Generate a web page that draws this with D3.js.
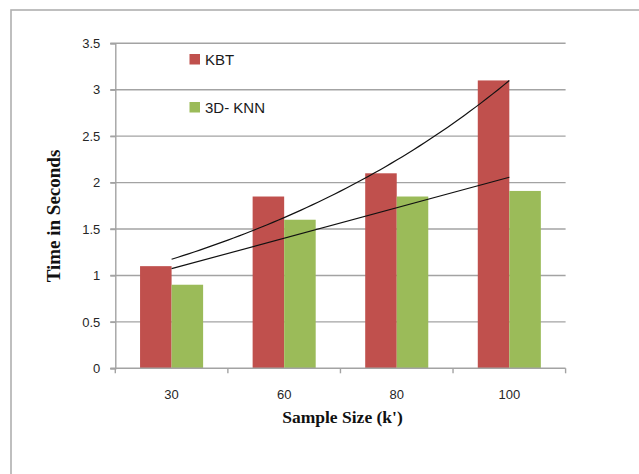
<!DOCTYPE html>
<html>
<head>
<meta charset="utf-8">
<script src="https://cdn.jsdelivr.net/npm/d3@7"></script>
<style>
  html, body { margin: 0; padding: 0; background: #fff; }
  svg { display: block; }
</style>
</head>
<body>
<svg id="chart" width="639" height="474"></svg>
<script>
// Run time of the two methods per sample size
const categories = ["30", "60", "80", "100"];
const kbtTimes = [1.1, 1.85, 2.1, 3.1];
const knnTimes = [0.9, 1.6, 1.85, 1.91];
const seriesNames = ["KBT", "3D- KNN"];
const seriesColors = ["#C0504D", "#9BBB59"];
const yTicks = [0, 0.5, 1, 1.5, 2, 2.5, 3, 3.5];

const svg = d3.select("#chart");
const W = 639, H = 474;
const plot = { left: 115.3, right: 565.6, top: 43.3, bottom: 368.3 };
const gridColor = "#a3a3a3";
const labelFont = "'Liberation Sans', Arial, sans-serif";
const titleFont = "'Liberation Serif', 'Times New Roman', serif";

// outer frame
svg.append("rect")
  .attr("x", 11).attr("y", 10)
  .attr("width", W + 20).attr("height", H + 20)
  .attr("fill", "none").attr("stroke", "#b0b0b0").attr("stroke-width", 1.6);

const y = d3.scaleLinear().domain([0, 3.5]).range([plot.bottom, plot.top]);
const x = d3.scaleBand().domain(categories).range([plot.left, plot.right]).paddingInner(0).paddingOuter(0);
const groupW = x.bandwidth() * 2 / 3.57;
const x1 = d3.scaleBand().domain(seriesNames)
  .range([(x.bandwidth() - groupW) / 2, (x.bandwidth() + groupW) / 2]);

// horizontal gridlines with left tick marks
svg.append("g").selectAll("line").data(yTicks.slice(1)).join("line")
  .attr("x1", plot.left - 5).attr("x2", plot.right)
  .attr("y1", d => y(d)).attr("y2", d => y(d))
  .attr("stroke", gridColor).attr("stroke-width", 1.4);

// y axis
const yAxis = d3.axisLeft(y).tickValues(yTicks).tickSize(5).tickPadding(10)
  .tickFormat(d => String(d));
const gy = svg.append("g").attr("transform", `translate(${plot.left},0)`).call(yAxis);
gy.select(".domain").attr("stroke", gridColor).attr("stroke-width", 1.4);
gy.selectAll(".tick line").attr("stroke", gridColor).attr("stroke-width", 1.4);
gy.selectAll(".tick text").attr("fill", "#262626")
  .style("font-family", labelFont).style("font-size", "13px");

// bars
const data = categories.map((c, i) => ({ cat: c, vals: [kbtTimes[i], knnTimes[i]] }));
const groups = svg.append("g").selectAll("g").data(data).join("g")
  .attr("transform", d => `translate(${x(d.cat)},0)`);
groups.selectAll("rect")
  .data(d => d.vals.map((v, j) => ({ name: seriesNames[j], v, color: seriesColors[j] })))
  .join("rect")
  .attr("x", d => x1(d.name))
  .attr("width", x1.bandwidth())
  .attr("y", d => y(d.v))
  .attr("height", d => y(0) - y(d.v))
  .attr("fill", d => d.color);

// x axis with boundary ticks
const gx = svg.append("g").attr("transform", `translate(0,${plot.bottom})`);
gx.append("line").attr("x1", plot.left - 5).attr("x2", plot.right)
  .attr("stroke", gridColor).attr("stroke-width", 1.4);
const bounds = categories.map(c => x(c)).concat([plot.right]);
gx.selectAll("line.b").data(bounds).join("line").attr("class", "b")
  .attr("x1", d => d).attr("x2", d => d).attr("y1", 0).attr("y2", 5)
  .attr("stroke", gridColor).attr("stroke-width", 1.4);
gx.selectAll("text").data(categories).join("text")
  .attr("x", d => x(d) + x.bandwidth() / 2).attr("y", 31)
  .attr("text-anchor", "middle").attr("fill", "#262626")
  .style("font-family", labelFont).style("font-size", "13px")
  .text(d => d);

// trendlines: exponential fit for KBT, linear fit for 3D-KNN
const idx = categories.map((c, i) => i + 1);
function linFit(xs, ys) {
  const mx = d3.mean(xs), my = d3.mean(ys);
  const b = d3.sum(xs, (v, i) => (v - mx) * (ys[i] - my)) / d3.sum(xs, v => (v - mx) ** 2);
  return { a: my - b * mx, b };
}
const expF = linFit(idx, kbtTimes.map(Math.log));
const linF = linFit(idx, knnTimes);
const xt = d3.scaleLinear().domain([1, 4])
  .range([x(categories[0]) + x.bandwidth() / 2, x(categories[3]) + x.bandwidth() / 2]);
const samples = d3.range(1, 4.0001, 0.05);
const line = d3.line().x(d => xt(d[0])).y(d => y(d[1]));
svg.append("path")
  .attr("d", line(samples.map(t => [t, Math.exp(expF.a + expF.b * t)])))
  .attr("fill", "none").attr("stroke", "#111").attr("stroke-width", 1.2);
svg.append("path")
  .attr("d", line([1, 4].map(t => [t, linF.a + linF.b * t])))
  .attr("fill", "none").attr("stroke", "#111").attr("stroke-width", 1.2);

// legend
const legend = svg.append("g");
const legendY = [59, 107];
seriesNames.forEach((n, i) => {
  legend.append("rect").attr("x", 189.5).attr("y", legendY[i] - 5)
    .attr("width", 10.5).attr("height", 10.5).attr("fill", seriesColors[i]);
  legend.append("text").attr("x", 205).attr("y", legendY[i] + 5.5)
    .attr("fill", "#1a1a1a")
    .style("font-family", labelFont).style("font-size", "15px").text(n);
});

// axis titles
svg.append("text")
  .attr("x", 342.5).attr("y", 423)
  .attr("text-anchor", "middle").attr("fill", "#111")
  .style("font-family", titleFont).style("font-size", "17.5px").style("font-weight", "bold")
  .text("Sample Size (k')");
svg.append("text")
  .attr("transform", `translate(60,216) rotate(-90)`)
  .attr("text-anchor", "middle").attr("fill", "#111")
  .style("font-family", titleFont).style("font-size", "19px").style("font-weight", "bold")
  .text("Time in Seconds");
</script>
</body>
</html>
